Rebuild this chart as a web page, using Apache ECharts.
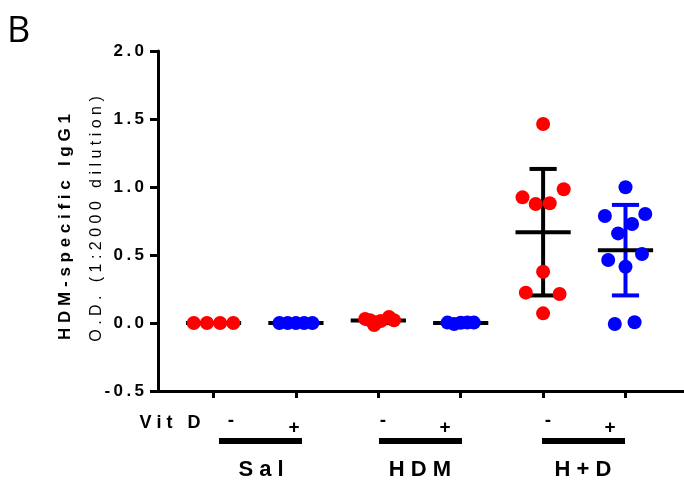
<!DOCTYPE html>
<html lang="en">
<head>
  <meta charset="UTF-8">
  <title>HDM-specific IgG1</title>
  <script src="https://cdn.jsdelivr.net/npm/echarts@6/dist/echarts.min.js"></script>
  <style>
    html, body { margin: 0; padding: 0; background: #fff; }
    #main { width: 684px; height: 481px; }
  </style>
</head>
<body>
<div id="main"></div>
<script>
  // group labels / text
  var groupNames = ['Sal', 'HDM', 'H+D'];
  var vitSigns = ['-', '+'];
  var yTitle = 'HDM-specific IgG1';
  var ySub = 'O.D. (1:2000 dilution)';
  var panelLetter = 'B';

  // points: x offset inside the group (in group widths) and O.D. value
  var salNoX = [-0.24, -0.08, 0.08, 0.24];
  var salNoY = [0, 0, 0, 0];
  var salVdX = [-0.2, -0.1, 0, 0.1, 0.2];
  var salVdY = [0, 0, 0, 0, 0];
  var hdmNoX = [-0.16, -0.1, -0.05, 0.03, 0.13, 0.19];
  var hdmNoY = [0.03, 0.02, -0.015, 0.015, 0.045, 0.02];
  var hdmVdX = [-0.16, -0.08, 0, 0.08, 0.16];
  var hdmVdY = [0.003, -0.008, 0.002, 0.004, 0.003];
  var hdNoX = [0, -0.25, 0.25, -0.09, 0.08, 0, -0.21, 0.2, 0];
  var hdNoY = [1.463, 0.924, 0.983, 0.875, 0.88, 0.377, 0.223, 0.213, 0.071];
  var hdVdX = [0, -0.25, 0.24, 0.08, -0.09, -0.21, 0.2, 0, -0.13, 0.11];
  var hdVdY = [0.998, 0.787, 0.801, 0.728, 0.659, 0.463, 0.507, 0.414, -0.007, 0.005];

  var groupX = [salNoX, salVdX, hdmNoX, hdmVdX, hdNoX, hdVdX];
  var groupY = [salNoY, salVdY, hdmNoY, hdmVdY, hdNoY, hdVdY];
  var errColors = ['#000', '#000', '#000', '#000', '#000', '#0000ff'];

  var red = '#ff0000';
  var blue = '#0000ff';
  var fam = '"Liberation Sans", Arial, sans-serif';

  function spaced(s, sep) {
    return s.split('').join(sep || ' ');
  }

  var redPts = [], bluePts = [], stats = [];
  for (var i = 0; i < groupY.length; i++) {
    var ys = groupY[i], n = ys.length, sum = 0;
    for (var j = 0; j < n; j++) {
      sum += ys[j];
      (i % 2 === 0 ? redPts : bluePts).push([i + groupX[i][j], ys[j]]);
    }
    var mean = sum / n, ss = 0;
    for (var k = 0; k < n; k++) ss += (ys[k] - mean) * (ys[k] - mean);
    stats.push([i, mean, Math.sqrt(ss / (n - 1))]);
  }

  var chart = echarts.init(document.getElementById('main'));

  function txt(text, x, y, size, weight, rot, align) {
    return {
      type: 'text', x: x, y: y, rotation: rot || 0, silent: true,
      style: {
        text: text, fill: '#000', fontSize: size, fontWeight: weight, fontFamily: fam,
        align: align || 'center', verticalAlign: 'middle',
        textAlign: align || 'center', textVerticalAlign: 'middle'
      }
    };
  }

  var signX = [231, 294, 383, 445, 548, 610];
  var signY = [421, 428];
  var barX = [219, 379, 542];
  var nameX = [261, 420, 583];

  var graphics = [
    txt(panelLetter, 7, 32, 36, 'normal', 0, 'left'),
    txt(spaced(yTitle), 65, 227, 17, 'bold', Math.PI / 2),
    txt(spaced(ySub), 97, 219, 16, 'normal', Math.PI / 2),
    txt(spaced('Vit D'), 170, 423, 18, 'bold')
  ];
  graphics[0].style.fontFamily = '"Open Sans", sans-serif';
  for (var s = 0; s < 6; s++) {
    graphics.push(txt(vitSigns[s % 2], signX[s], signY[s % 2], 19, 'bold'));
  }
  for (var g = 0; g < 3; g++) {
    graphics.push({
      type: 'rect', silent: true,
      shape: {x: barX[g], y: 438, width: 83, height: 6},
      style: {fill: '#000'}
    });
    graphics.push(txt(spaced(groupNames[g]), nameX[g], 470, 22, 'bold'));
  }

  chart.setOption({
    backgroundColor: '#fff',
    animation: false,
    grid: {left: 158, right: 0, top: 51, bottom: 90, containLabel: false},
    xAxis: {
      type: 'value',
      min: -0.674,
      max: 5.71,
      axisLine: {show: true, onZero: false, lineStyle: {color: '#000', width: 3}},
      axisTick: {show: true, length: 7, customValues: [0, 1, 2, 3, 4, 5], lineStyle: {color: '#000', width: 3}},
      axisLabel: {show: false},
      splitLine: {show: false}
    },
    yAxis: {
      type: 'value',
      min: -0.5,
      max: 2,
      interval: 0.5,
      axisLine: {show: true, onZero: false, lineStyle: {color: '#000', width: 3}},
      axisTick: {show: true, length: 8, lineStyle: {color: '#000', width: 3}},
      axisLabel: {
        margin: 14, color: '#000', fontSize: 17, fontWeight: 'bold', fontFamily: fam,
        formatter: function (v) { return spaced(v.toFixed(1), '\u2009'); }
      },
      splitLine: {show: false}
    },
    graphic: graphics,
    series: [
      {
        type: 'custom',
        z: 2,
        data: stats,
        renderItem: function (params, api) {
          var x = api.value(0), m = api.value(1), sd = api.value(2);
          var c = api.coord([x, m]);
          var top = api.coord([x, m + sd]);
          var bot = api.coord([x, m - sd]);
          var unit = api.size([1, 0])[0];
          var hw = unit * 0.335, cw = unit * 0.165;
          var ec = errColors[params.dataIndex];
          var ls = {stroke: ec, lineWidth: 4};
          return {
            type: 'group',
            children: [
              {type: 'line', shape: {x1: c[0], y1: top[1], x2: c[0], y2: bot[1]}, style: ls},
              {type: 'line', shape: {x1: c[0] - cw, y1: top[1], x2: c[0] + cw, y2: top[1]}, style: ls},
              {type: 'line', shape: {x1: c[0] - cw, y1: bot[1], x2: c[0] + cw, y2: bot[1]}, style: ls},
              {type: 'line', shape: {x1: c[0] - hw, y1: c[1], x2: c[0] + hw, y2: c[1]}, style: {stroke: '#000', lineWidth: 4}}
            ]
          };
        }
      },
      {
        type: 'scatter',
        z: 3,
        symbolSize: 14,
        itemStyle: {color: red, opacity: 1},
        data: redPts
      },
      {
        type: 'scatter',
        z: 3,
        symbolSize: 14,
        itemStyle: {color: blue, opacity: 1},
        data: bluePts
      }
    ]
  });
</script>
</body>
</html>
